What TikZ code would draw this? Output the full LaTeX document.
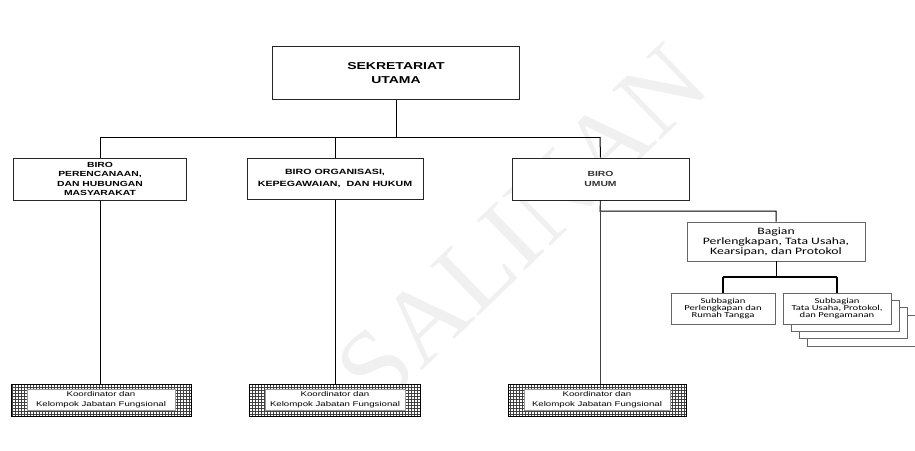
\documentclass[tikz,border=0pt]{standalone}
\usepackage{fontspec}
\setmainfont{Liberation Sans}
\newfontfamily\calib{Carlito}
\newfontfamily\wmserif{Liberation Serif}
\usetikzlibrary{patterns}
\begin{document}
\begin{tikzpicture}[x=1pt,y=-1pt,
  conn/.style={draw=black,line width=1pt},
  birobox/.style={draw=black!85,line width=1pt,fill=white,inner sep=0pt},
  bagbox/.style={draw=black!60,line width=0.9pt,fill=white,inner sep=0pt},
  subbox/.style={draw=black!60,line width=0.8pt,fill=white,inner sep=0pt},
  koorgrid/.style={draw=black,line width=0.8pt,pattern=grid,pattern color=black!75,inner sep=0pt},
  koorwhite/.style={fill=white,draw=black!40,line width=0.3pt,inner sep=0pt},
  txt/.style={xscale=1.4,transform shape,align=center,inner sep=0pt}
]
\useasboundingbox (0,0) rectangle (915,450);
% watermark
\node[rotate=44,text=black!6,inner sep=0pt,font=\wmserif\fontsize{106}{106}\selectfont] (wm) at (522,226) {SALINAN};
% top
\node[birobox,minimum width=247,minimum height=53] (su) at (396,73) {};
\node[txt,font=\bfseries\fontsize{10}{14}\selectfont] (sut) at (su.center) {SEKRETARIAT\\UTAMA};
% biro boxes
\node[birobox,minimum width=173,minimum height=42] (b1) at (100,179) {};
\node[txt,font=\bfseries\fontsize{7.4}{9.6}\selectfont] (b1t) at (b1.center) {BIRO\\PERENCANAAN,\\DAN HUBUNGAN\\MASYARAKAT};
\node[birobox,minimum width=176,minimum height=41] (b2) at (335,178.5) {};
\node[txt,font=\bfseries\fontsize{7.6}{12}\selectfont] (b2t) at (b2.center) {BIRO ORGANISASI,\\KEPEGAWAIAN,\ \ DAN HUKUM};
\node[birobox,minimum width=177,minimum height=42] (b3) at (600.5,179) {};
\node[txt,text=black!80,font=\bfseries\fontsize{7.4}{10}\selectfont] (b3t) at (b3.center) {BIRO\\UMUM};
% bus
\coordinate (busL) at (100,137);
\coordinate (busR) at (600,137);
\draw[conn] (su.south) -- (su.south |- busL);
\draw[conn] (busL) -- (busR);
\draw[conn] (busL) -- (b1.north);
\draw[conn] (b2.north |- busL) -- (b2.north);
\draw[conn] (busR) -- (b3.north);
% bagian
\node[bagbox,minimum width=178,minimum height=39] (bag) at (776,241.5) {};
\node[txt,font=\calib\fontsize{9.8}{10.4}\selectfont] (bagt) at ([yshift=-0.5]bag.center) {Bagian\\Perlengkapan, Tata Usaha,\\Kearsipan, dan Protokol};
\coordinate (j1) at (600,211);
\draw[conn] (b3.south) -- (j1) -| (bag.north);
% subbagian
\node[subbox,minimum width=104,minimum height=31] (s1) at (723,308.5) {};
\node[txt,font=\calib\fontsize{7.6}{7.3}\selectfont] (s1t) at (s1.center) {Subbagian\\Perlengkapan dan\\Rumah Tangga};
\node[subbox,minimum width=108,minimum height=31] (s2c) at (861,330.5) {};
\node[subbox,minimum width=108,minimum height=31] (s2b) at (853,322.5) {};
\node[subbox,minimum width=108,minimum height=31] (s2a) at (845,315.5) {};
\node[subbox,minimum width=108,minimum height=31] (s2) at (837,308.5) {};
\node[txt,font=\calib\fontsize{7.6}{7.3}\selectfont] (s2t) at (s2.center) {Subbagian\\Tata Usaha, Protokol,\\dan Pengamanan};
\coordinate (j2l) at (723,277);
\coordinate (j2r) at (837,277);
\draw[conn] (bag.south) -- (bag.south |- j2l);
\draw[conn,line width=1.7pt] (j2l) -- (j2r);
\draw[conn,line width=1.7pt] (j2l) -- (s1.north);
\draw[conn,line width=1.7pt] (j2r) -- (s2.north);
% koordinator
\node[koorgrid,minimum width=180,minimum height=32] (k1) at (101,400) {};
\node[koorwhite,minimum width=148,minimum height=21] (k1w) at (k1.center) {};
\node[txt,font=\fontsize{6.9}{10}\selectfont] (k1t) at (k1.center) {Koordinator dan\\Kelompok Jabatan Fungsional};
\node[koorgrid,minimum width=171,minimum height=32] (k2) at (335,400) {};
\node[koorwhite,minimum width=140,minimum height=21] (k2w) at (k2.center) {};
\node[txt,font=\fontsize{6.9}{10}\selectfont] (k2t) at (k2.center) {Koordinator dan\\Kelompok Jabatan Fungsional};
\node[koorgrid,minimum width=178,minimum height=32] (k3) at (597,400) {};
\node[koorwhite,minimum width=146,minimum height=21] (k3w) at (k3.center) {};
\node[txt,font=\fontsize{6.9}{10}\selectfont] (k3t) at (k3.center) {Koordinator dan\\Kelompok Jabatan Fungsional};
\draw[conn] (b1.south) -- (k1.north -| b1.south);
\draw[conn] (b2.south) -- (k2.north -| b2.south);
\draw[conn,line width=0.7pt,draw=black!75] (b3.south) -- (k3.north -| b3.south);
\end{tikzpicture}
\end{document}
